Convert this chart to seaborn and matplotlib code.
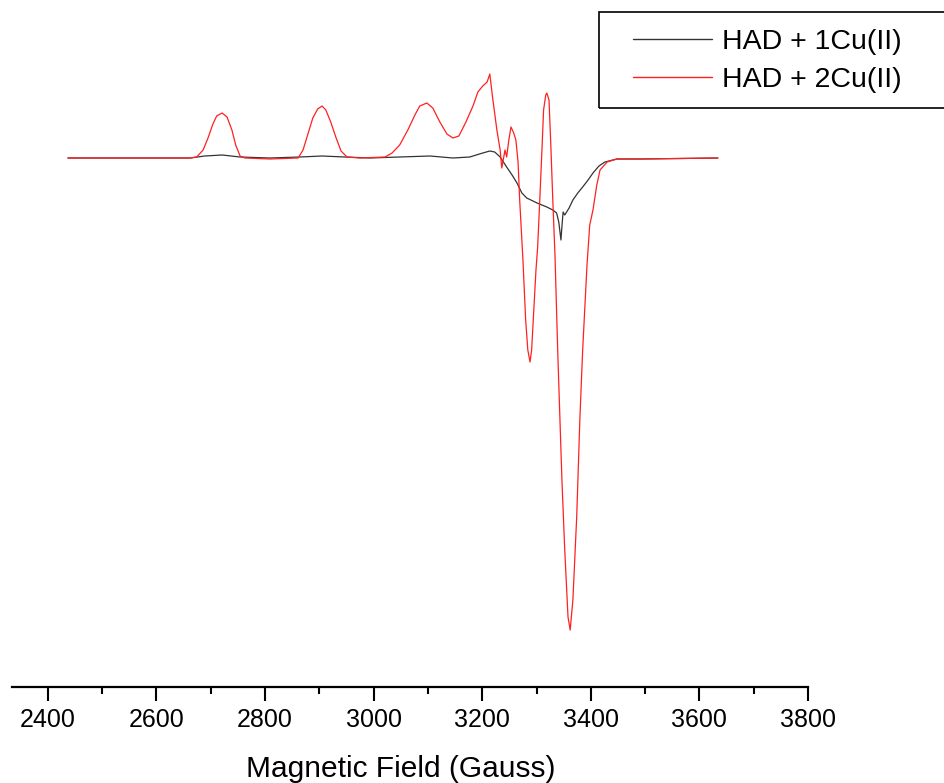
import matplotlib
matplotlib.use("Agg")
import matplotlib.pyplot as plt
import seaborn as sns
import pandas as pd
from matplotlib.patches import Rectangle
from matplotlib.lines import Line2D

# Magnetic field (Gauss) and intensity (arb. units)
field_2cu = [2437, 2496, 2588, 2662, 2674, 2686, 2695, 2704, 2711, 2721, 2730, 2739, 2746, 2754,
             2763, 2809, 2861, 2870, 2879, 2888, 2897, 2905, 2912, 2921, 2931, 2940, 2951, 2975,
             3021, 3034, 3048, 3063, 3076, 3085, 3098, 3109, 3122, 3135, 3146, 3157, 3170, 3183,
             3192, 3201, 3209, 3214, 3219, 3227, 3233, 3236, 3242, 3245, 3249, 3253, 3258, 3262,
             3266, 3269, 3275, 3280, 3284, 3288, 3291, 3295, 3299, 3302, 3306, 3310, 3313, 3317,
             3319, 3323, 3326, 3330, 3334, 3339, 3343, 3347, 3352, 3358, 3362, 3367, 3374, 3380,
             3385, 3393, 3398, 3404, 3411, 3417, 3430, 3448, 3491, 3634]
signal_2cu = [0, 0, 0, 0, 1, 8, 20, 34, 42, 45, 41, 28, 13, 2,
              0, -1, 0, 8, 24, 40, 49, 52, 48, 36, 20, 7, 1, 0,
              1, 5, 13, 28, 43, 52, 55, 50, 36, 24, 20, 22, 36, 52,
              66, 72, 76, 84, 61, 28, 8, -10, 8, 1, 18, 31, 25, 18,
              -4, -42, -102, -162, -192, -204, -192, -152, -112, -90, -42, 8, 48, 63,
              65, 58, 18, -42, -97, -192, -259, -325, -392, -459, -472, -442, -359, -259,
              -192, -107, -67, -52, -27, -12, -4, -1, -1, 0]

field_1cu = [2437, 2662, 2689, 2721, 2754, 2809, 2864, 2905, 2947, 2993, 3048, 3104, 3146, 3177,
             3201, 3214, 3223, 3233, 3245, 3255, 3264, 3273, 3282, 3301, 3319, 3330, 3337, 3341,
             3345, 3347, 3349, 3352, 3360, 3367, 3376, 3385, 3395, 3404, 3415, 3426, 3448, 3491,
             3634]
signal_1cu = [0, 0, 2, 3, 1, 0, 1, 2, 1, 0, 1, 2, 0, 1,
              5, 7, 6, 1, -9, -17, -25, -35, -40, -45, -49, -52, -55, -64,
              -82, -67, -54, -57, -50, -42, -35, -29, -22, -15, -8, -4, -1, -1,
              0]

labels = ["HAD + 1Cu(II)", "HAD + 2Cu(II)"]
x_ticks = [2400, 2600, 2800, 3000, 3200, 3400, 3600, 3800]

df = pd.concat([
    pd.DataFrame({"Field": field_1cu, "Signal": signal_1cu, "Sample": labels[0]}),
    pd.DataFrame({"Field": field_2cu, "Signal": signal_2cu, "Sample": labels[1]}),
])

sns.set_style("white")
plt.rcParams["font.family"] = ["Liberation Sans", "DejaVu Sans"]
plt.rcParams["text.color"] = "black"
plt.rcParams["axes.labelcolor"] = "black"
plt.rcParams["xtick.color"] = "black"

fig = plt.figure(figsize=(9.45, 7.83), dpi=100)
ax = fig.add_axes([12 / 945, 1 - 687 / 783, (808 - 12) / 945, 687 / 783])

sns.lineplot(data=df, x="Field", y="Signal", hue="Sample",
             palette={labels[0]: "#333333", labels[1]: "#ff2020"},
             linewidth=0.9, ax=ax, estimator=None, sort=True, legend=False)

ax.set_xlim(2334, 3800)
ax.set_ylim(-529, 158)
ax.set_xticks(x_ticks)
ax.set_xticks([t + 100 for t in x_ticks[:-1]], minor=True)
ax.set_yticks([])
ax.set_ylabel("")
ax.set_xlabel("Magnetic Field (Gauss)", fontsize=21.5, labelpad=17, color="black")
ax.xaxis.label.set_x(0.489)
for s in ["top", "right", "left"]:
    ax.spines[s].set_visible(False)
ax.spines["bottom"].set_linewidth(1.6)
ax.spines["bottom"].set_color("black")
ax.tick_params(axis="x", which="major", direction="out", length=10, width=1.5,
               labelsize=18, pad=5, bottom=True, colors="black")
ax.tick_params(axis="x", which="minor", direction="out", length=5, width=1.5,
               bottom=True, colors="black")
ax.patch.set_alpha(0)

# legend
handles = [Line2D([], [], color="#333333", lw=1.0), Line2D([], [], color="#ff2020", lw=1.0)]
leg = fig.legend(handles, labels, loc="center left", bbox_to_anchor=(619 / 945, 1 - 61 / 783),
                 frameon=False, fontsize=20.5, handlelength=2.75, handletextpad=0.35,
                 labelspacing=0.4, borderpad=0)
for t in leg.get_texts():
    t.set_color("black")
fig.patches.append(Rectangle((599 / 945, 1 - 108 / 783), 0.5, 96 / 783,
                             transform=fig.transFigure, fill=False, ec="black", lw=1.2))

fig.savefig("out.png", dpi=100)
